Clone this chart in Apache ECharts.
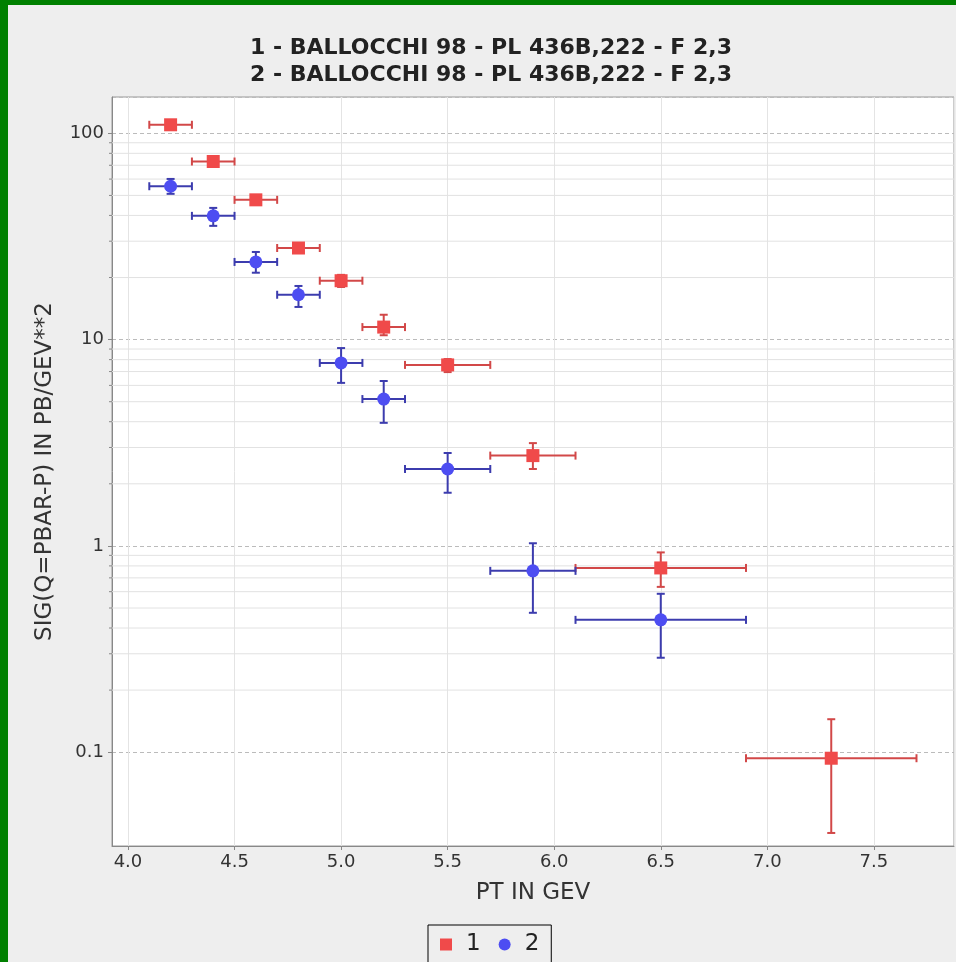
<!DOCTYPE html>
<html>
<head>
<meta charset="utf-8">
<title>BALLOCCHI 98</title>
<script src="https://cdn.jsdelivr.net/npm/echarts@6/dist/echarts.min.js"></script>
<style>
  html, body { margin: 0; padding: 0; background: #eeeeee; }
  #chart { width: 956px; height: 962px; }
</style>
</head>
<body>
<div id="chart"></div>
<script>
// series 1 (red squares)
const s1X   = [4.2, 4.4, 4.6, 4.8, 5.0, 5.2, 5.5, 5.9, 6.5, 7.3];
const s1XLo = [4.1, 4.3, 4.5, 4.7, 4.9, 5.1, 5.3, 5.7, 6.1, 6.9];
const s1XHi = [4.3, 4.5, 4.7, 4.9, 5.1, 5.3, 5.7, 6.1, 6.9, 7.7];
const s1Y   = [110, 73, 47.6, 27.8, 19.3, 11.5, 7.54, 2.74, 0.782, 0.0935];
const s1YLo = [106, 70, 45.5, 26.3, 18.0, 10.5, 6.96, 2.36, 0.633, 0.0406];
const s1YHi = [114, 76.5, 49.8, 29.4, 20.6, 13.2, 8.05, 3.15, 0.93, 0.1445];

// series 2 (blue circles)
const s2X   = [4.2, 4.4, 4.6, 4.8, 5.0, 5.2, 5.5, 5.9, 6.5];
const s2XLo = [4.1, 4.3, 4.5, 4.7, 4.9, 5.1, 5.3, 5.7, 6.1];
const s2XHi = [4.3, 4.5, 4.7, 4.9, 5.1, 5.3, 5.7, 6.1, 6.9];
const s2Y   = [55.4, 39.8, 23.8, 16.5, 7.71, 5.15, 2.36, 0.757, 0.438];
const s2YLo = [50.9, 35.6, 21.1, 14.4, 6.17, 3.95, 1.81, 0.474, 0.287];
const s2YHi = [60.1, 43.5, 26.6, 18.2, 9.1, 6.3, 2.82, 1.03, 0.586];

// minor log gridlines
const minorY = [0.2, 0.3, 0.4, 0.5, 0.6, 0.7, 0.8, 0.9,
                2, 3, 4, 5, 6, 7, 8, 9,
                20, 30, 40, 50, 60, 70, 80, 90];

const titleLines = ['1 - BALLOCCHI 98 - PL 436B,222 - F 2,3',
                    '2 - BALLOCCHI 98 - PL 436B,222 - F 2,3'];

const red = '#f04a4a', redBar = '#d24848';
const blue = '#4d4df2', blueBar = '#3c3cae';
const font = 'DejaVu Sans';

function pts(xs, ys) { return xs.map((x, i) => [x, ys[i]]); }
function bars(xs, ys, xlo, xhi, ylo, yhi) {
  return xs.map((x, i) => [x, ys[i], xlo[i], xhi[i], ylo[i], yhi[i]]);
}

function errorBar(color) {
  return function (params, api) {
    const x = api.value(0), y = api.value(1);
    const l = api.coord([api.value(2), y]);
    const r = api.coord([api.value(3), y]);
    const lo = api.coord([x, api.value(4)]);
    const hi = api.coord([x, api.value(5)]);
    const cap = 4;
    const style = { stroke: color, lineWidth: 2 };
    return {
      type: 'group',
      children: [
        { type: 'line', shape: { x1: l[0], y1: l[1], x2: r[0], y2: r[1] }, style },
        { type: 'line', shape: { x1: l[0], y1: l[1] - cap, x2: l[0], y2: l[1] + cap }, style },
        { type: 'line', shape: { x1: r[0], y1: r[1] - cap, x2: r[0], y2: r[1] + cap }, style },
        { type: 'line', shape: { x1: lo[0], y1: lo[1], x2: hi[0], y2: hi[1] }, style },
        { type: 'line', shape: { x1: lo[0] - cap, y1: lo[1], x2: lo[0] + cap, y2: lo[1] }, style },
        { type: 'line', shape: { x1: hi[0] - cap, y1: hi[1], x2: hi[0] + cap, y2: hi[1] }, style }
      ]
    };
  };
}

const chart = echarts.init(document.getElementById('chart'));
chart.setOption({
  backgroundColor: '#eeeeee',
  animation: false,
  graphic: [
    { type: 'rect', shape: { x: 0, y: 0, width: 8, height: 962 }, style: { fill: '#008000' } },
    { type: 'rect', shape: { x: 0, y: 0, width: 956, height: 5 }, style: { fill: '#008000' } },
    { type: 'text', x: 491, y: 48,
      style: { text: titleLines[0], align: 'center', verticalAlign: 'middle',
               font: 'bold 22px "DejaVu Sans", sans-serif', fill: '#222' } },
    { type: 'text', x: 491, y: 75,
      style: { text: titleLines[1], align: 'center', verticalAlign: 'middle',
               font: 'bold 22px "DejaVu Sans", sans-serif', fill: '#222' } }
  ],
  legend: {
    data: ['1', '2'],
    left: 428,
    top: 925,
    padding: [8, 12],
    itemGap: 18,
    itemWidth: 12,
    itemHeight: 12,
    borderColor: '#000',
    borderWidth: 1,
    textStyle: { fontSize: 23, color: '#222', fontFamily: font, padding: [0, 0, 0, 9] }
  },
  grid: {
    left: 112, top: 97, right: 2, bottom: 116,
    show: true, backgroundColor: '#ffffff', borderColor: '#999', borderWidth: 1
  },
  xAxis: {
    type: 'value',
    min: 3.925,
    max: 7.876,
    splitNumber: 8,
    minInterval: 0.5,
    maxInterval: 0.5,
    name: 'PT IN GEV',
    nameLocation: 'middle',
    nameGap: 36,
    nameTextStyle: { fontSize: 23, color: '#333', fontFamily: font },
    axisLine: { lineStyle: { color: '#888' } },
    axisTick: { length: 4, lineStyle: { color: '#888' } },
    axisLabel: {
      showMinLabel: false, showMaxLabel: false,
      fontSize: 18, color: '#333', fontFamily: font, margin: 7,
      formatter: v => v.toFixed(1)
    },
    splitLine: { lineStyle: { color: '#e4e4e4', width: 1 } }
  },
  yAxis: {
    type: 'log',
    logBase: 10,
    min: 0.0351,
    max: 150,
    name: 'SIG(Q=PBAR-P) IN PB/GEV**2',
    nameLocation: 'middle',
    nameGap: 55,
    nameTextStyle: { fontSize: 23, color: '#333', fontFamily: font },
    axisLine: { show: true, lineStyle: { color: '#888' } },
    axisTick: { length: 4, lineStyle: { color: '#888' } },
    axisLabel: {
      showMinLabel: false, showMaxLabel: false,
      fontSize: 18, color: '#333', fontFamily: font, margin: 8,
      formatter: v => (v >= 1 ? String(Math.round(v)) : String(+v.toPrecision(1)))
    },
    splitLine: { lineStyle: { color: '#bbbbbb', type: [4, 3], width: 1 } }
  },
  series: [
    {
      name: 'minor',
      type: 'custom',
      silent: true,
      z: 1,
      data: minorY.map(v => [4.0, v]),
      encode: { x: 0, y: 1 },
      renderItem: function (params, api) {
        const cs = params.coordSys;
        const p = api.coord([api.value(0), api.value(1)]);
        return {
          type: 'group',
          children: [
            { type: 'line', shape: { x1: cs.x, y1: p[1], x2: cs.x + cs.width, y2: p[1] },
              style: { stroke: '#e2e2e2', lineWidth: 1 } },
            { type: 'line', shape: { x1: cs.x - 3, y1: p[1], x2: cs.x, y2: p[1] },
              style: { stroke: '#888', lineWidth: 1 } }
          ]
        };
      }
    },
    {
      name: 'err1',
      type: 'custom',
      z: 3,
      data: bars(s1X, s1Y, s1XLo, s1XHi, s1YLo, s1YHi),
      encode: { x: 0, y: 1 },
      renderItem: errorBar(redBar)
    },
    {
      name: 'err2',
      type: 'custom',
      z: 3,
      data: bars(s2X, s2Y, s2XLo, s2XHi, s2YLo, s2YHi),
      encode: { x: 0, y: 1 },
      renderItem: errorBar(blueBar)
    },
    {
      name: '1',
      type: 'scatter',
      symbol: 'rect',
      symbolSize: 13,
      z: 5,
      itemStyle: { color: red, opacity: 1 },
      data: pts(s1X, s1Y)
    },
    {
      name: '2',
      type: 'scatter',
      symbol: 'circle',
      symbolSize: 13,
      z: 5,
      itemStyle: { color: blue, opacity: 1 },
      data: pts(s2X, s2Y)
    }
  ]
});
</script>
</body>
</html>
